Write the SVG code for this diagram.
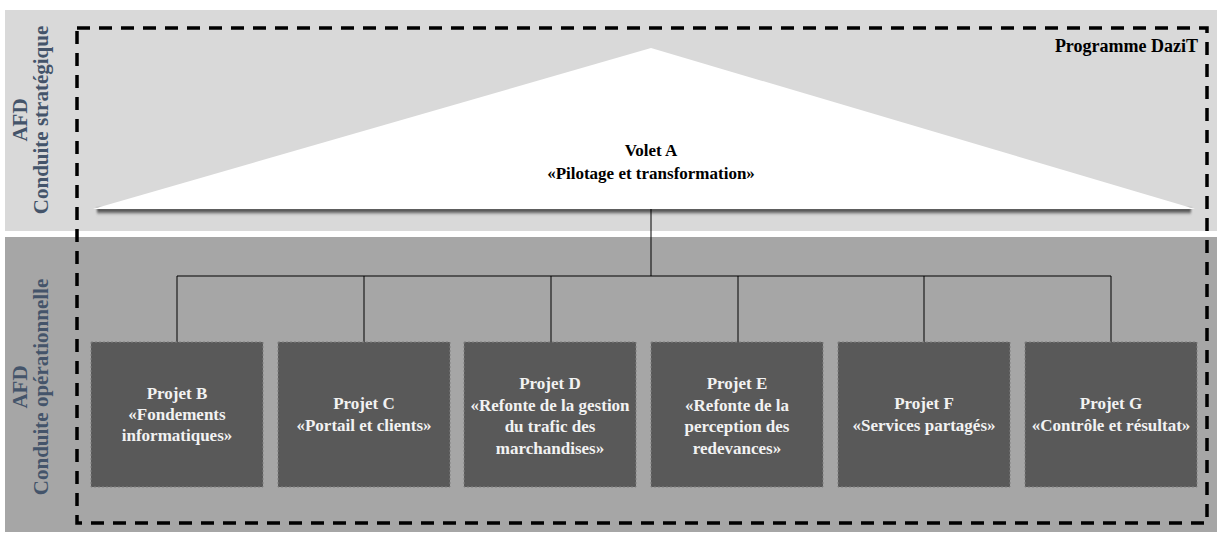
<svg xmlns="http://www.w3.org/2000/svg" width="1217" height="533" viewBox="0 0 1217 533">
<defs>
<style>
text{font-family:"Liberation Serif","Times New Roman","DejaVu Serif",serif;font-weight:bold}
.lbl{font-size:21px;fill:#44546a;text-anchor:middle}
.box{fill:#595959;stroke:#808080;stroke-width:1;stroke-dasharray:2 2}
.bt{font-size:17px;fill:#f2f2f2;text-anchor:middle}
.tt{font-size:17px;fill:#000;text-anchor:middle}
.con{stroke:#000;stroke-width:1;fill:none}
</style>
<linearGradient id="sh" x1="0" y1="0" x2="0" y2="1">
<stop offset="0" stop-color="#404040"/>
<stop offset="0.5" stop-color="#6a6a6a"/>
<stop offset="1" stop-color="#d9d9d9" stop-opacity="0"/>
</linearGradient>
<filter id="blur" x="-5%" y="-100%" width="110%" height="300%"><feGaussianBlur stdDeviation="1.2"/></filter>
</defs>
<rect x="0" y="0" width="1217" height="533" fill="#fff"/>
<rect x="5" y="10" width="1212" height="221" fill="#d9d9d9"/>
<rect x="5" y="237" width="1212" height="295" fill="#a6a6a6"/>
<g id="labels">
<text class="lbl" transform="translate(27,120) rotate(-90)">AFD</text>
<text class="lbl" transform="translate(48,120) rotate(-90)">Conduite stratégique</text>
<text class="lbl" transform="translate(27,387) rotate(-90)">AFD</text>
<text class="lbl" transform="translate(48,387) rotate(-90)">Conduite opérationnelle</text>
</g>
<g id="volet-a">
<rect x="97" y="208" width="1094" height="8" fill="url(#sh)" filter="url(#blur)"/>
<polygon points="651,48 93,209 1195,209" fill="#fff"/>
<text class="tt" x="651" y="156">Volet A</text>
<text class="tt" x="651" y="179">«Pilotage et transformation»</text>
</g>
<g id="connectors">
<path class="con" d="M651,209V276M177,276H1111M177,276V342M364,276V342M551,276V342M738,276V342M924,276V342M1111,276V342"/>
</g>
<g id="projet-b"><rect class="box" x="91" y="342" width="172" height="145"/>
<text class="bt" x="177" y="399">Projet B</text><text class="bt" x="177" y="420">«Fondements</text><text class="bt" x="177" y="441">informatiques»</text></g>
<g id="projet-c"><rect class="box" x="278" y="342" width="172" height="145"/>
<text class="bt" x="364" y="409">Projet C</text><text class="bt" x="364" y="431">«Portail et clients»</text></g>
<g id="projet-d"><rect class="box" x="464" y="342" width="172" height="145"/>
<text class="bt" x="550" y="389">Projet D</text><text class="bt" x="550" y="411">«Refonte de la gestion</text><text class="bt" x="550" y="432">du trafic des</text><text class="bt" x="550" y="454">marchandises»</text></g>
<g id="projet-e"><rect class="box" x="651" y="342" width="172" height="145"/>
<text class="bt" x="737" y="389">Projet E</text><text class="bt" x="737" y="411">«Refonte de la</text><text class="bt" x="737" y="432">perception des</text><text class="bt" x="737" y="454">redevances»</text></g>
<g id="projet-f"><rect class="box" x="838" y="342" width="172" height="145"/>
<text class="bt" x="924" y="409">Projet F</text><text class="bt" x="924" y="431">«Services partagés»</text></g>
<g id="projet-g"><rect class="box" x="1025" y="342" width="172" height="145"/>
<text class="bt" x="1111" y="409">Projet G</text><text class="bt" x="1111" y="431">«Contrôle et résultat»</text></g>
<g id="programme">
<rect x="77" y="28" width="1130" height="495" fill="none" stroke="#000" stroke-width="3.5" stroke-dasharray="13 9"/>
<text x="1198" y="52" font-size="18px" text-anchor="end" fill="#000">Programme DaziT</text>
</g>
</svg>
